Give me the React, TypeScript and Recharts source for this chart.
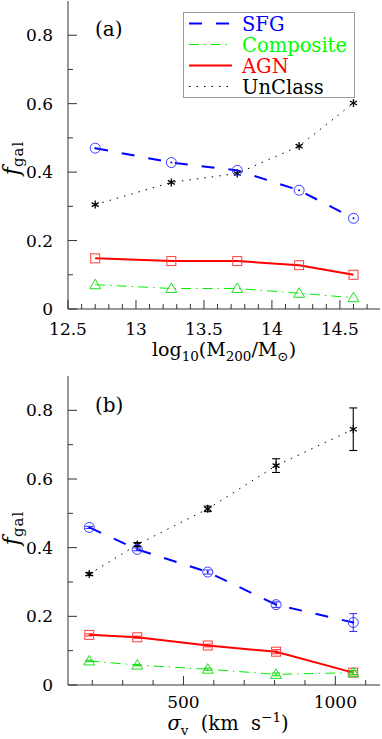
import React from 'react';
import { LineChart, Line, XAxis, YAxis, ErrorBar, Label, Customized } from 'recharts';

const FONT = '"DejaVu Serif", serif';
const AXIS = '#333333';

// ---- Panel (a): halo mass ----
const massX = [12.7, 13.26, 13.745, 14.2, 14.6];
const sfgMass = [0.47, 0.428, 0.405, 0.347, 0.265];
const compMass = [0.071, 0.06, 0.06, 0.046, 0.033];
const agnMass = [0.148, 0.14, 0.14, 0.128, 0.1];
const unMass = [0.305, 0.37, 0.396, 0.476, 0.602];

// ---- Panel (b): velocity dispersion ----
const sigmaX = [190, 348, 580, 805, 1059];
const sfgSigma = [0.459, 0.395, 0.329, 0.234, 0.182];
const sfgSigmaErr = [0.003, 0.004, 0.006, 0.008, 0.026];
const compSigma = [0.07, 0.058, 0.046, 0.031, 0.036];
const compSigmaErr = [0.002, 0.002, 0.003, 0.004, 0.006];
const agnSigma = [0.146, 0.139, 0.115, 0.097, 0.036];
const agnSigmaErr = [0.003, 0.003, 0.004, 0.006, 0.006];
const unSigma = [0.323, 0.409, 0.513, 0.639, 0.745];
const unSigmaErr = [0.004, 0.006, 0.008, 0.02, 0.062];

// ---- ticks ----
const massTicks = [12.5, 12.6, 12.7, 12.8, 12.9, 13, 13.1, 13.2, 13.3, 13.4, 13.5, 13.6, 13.7, 13.8, 13.9, 14, 14.1, 14.2, 14.3, 14.4, 14.5, 14.6, 14.7];
const massLabels = [12.5, 13, 13.5, 14, 14.5];
const sigmaTicks = [200, 300, 400, 500, 600, 700, 800, 900, 1000, 1100];
const sigmaLabels = [500, 1000];
const fracTicks = [0, 0.1, 0.2, 0.3, 0.4, 0.5, 0.6, 0.7, 0.8];
const fracLabels = [0, 0.2, 0.4, 0.6, 0.8];

const seriesNames = ['SFG', 'Composite', 'AGN', 'UnClass'];
const seriesKeys = ['sfg', 'comp', 'agn', 'un'];

// styles
const lineStyle: Record<string, { stroke: string; width: number; dash?: string; marker: string }> = {
  sfg: { stroke: '#0000ff', width: 2, dash: '13 14', marker: '#3a3aff' },
  comp: { stroke: '#00ee00', width: 1, dash: '10 5 1.5 5', marker: '#22dd22' },
  agn: { stroke: '#ff0000', width: 2, marker: '#ff3c3c' },
  un: { stroke: '#000000', width: 1, dash: '1.5 6', marker: '#000000' },
};

const rowsMass = massX.map((x, i) => ({ x, sfg: sfgMass[i], comp: compMass[i], agn: agnMass[i], un: unMass[i] }));
const rowsSigma = sigmaX.map((x, i) => ({
  x,
  sfg: sfgSigma[i], sfgErr: sfgSigmaErr[i],
  comp: compSigma[i], compErr: compSigmaErr[i],
  agn: agnSigma[i], agnErr: agnSigmaErr[i],
  un: unSigma[i], unErr: unSigmaErr[i],
}));

const fmtFrac = (v: number) => (v === 0 ? '0' : String(v));

const makeBottomTick = (labels: number[], dyText: number) => (props: any) => {
  const { x, y, payload } = props;
  const major = labels.includes(payload.value);
  return (
    <g>
      <line x1={x} x2={x} y1={y} y2={y - (major ? 9 : 5)} stroke={AXIS} strokeWidth={1} />
      {major && (
        <text x={x} y={y + dyText} textAnchor="middle" fontSize={17} fontFamily={FONT} fill="#000">
          {String(payload.value)}
        </text>
      )}
    </g>
  );
};

const makeTopTick = (labels: number[]) => (props: any) => {
  const { x, y, payload } = props;
  const major = labels.includes(payload.value);
  return <line x1={x} x2={x} y1={y} y2={y + (major ? 9 : 5)} stroke={AXIS} strokeWidth={1} />;
};

const LeftTick = (props: any) => {
  const { x, y, payload } = props;
  const major = fracLabels.includes(payload.value);
  return (
    <g>
      <line x1={x} x2={x + (major ? 9 : 5)} y1={y} y2={y} stroke={AXIS} strokeWidth={1} />
      {major && (
        <text x={x - 15} y={y + 6} textAnchor="end" fontSize={17} fontFamily={FONT} fill="#000">
          {fmtFrac(payload.value)}
        </text>
      )}
    </g>
  );
};

const RightTick = (props: any) => {
  const { x, y, payload } = props;
  const major = fracLabels.includes(payload.value);
  return <line x1={x} x2={x - (major ? 9 : 5)} y1={y} y2={y} stroke={AXIS} strokeWidth={1} />;
};

// markers
const CircleMark = (props: any) => {
  const { cx, cy, index } = props;
  if (cx == null || cy == null) return <g key={index} />;
  return (
    <g key={index}>
      <circle cx={cx} cy={cy} r={5} fill="none" stroke={lineStyle.sfg.marker} strokeWidth={1} />
      <circle cx={cx} cy={cy} r={1} fill="#0000ff" />
    </g>
  );
};
const SquareMark = (props: any) => {
  const { cx, cy, index } = props;
  if (cx == null || cy == null) return <g key={index} />;
  return <rect key={index} x={cx - 4.5} y={cy - 4.5} width={9} height={9} fill="none" stroke={lineStyle.agn.marker} strokeWidth={1} />;
};
const TriMark = (props: any) => {
  const { cx, cy, index } = props;
  if (cx == null || cy == null) return <g key={index} />;
  return (
    <polygon key={index} points={`${cx},${cy - 5.5} ${cx - 5.5},${cy + 4} ${cx + 5.5},${cy + 4}`} fill="none" stroke={lineStyle.comp.marker} strokeWidth={1} />
  );
};
const StarMark = (props: any) => {
  const { cx, cy, index } = props;
  if (cx == null || cy == null) return <g key={index} />;
  return (
    <g key={index} stroke="#000" strokeWidth={1.3}>
      <line x1={cx} x2={cx} y1={cy - 4} y2={cy + 4} />
      <line x1={cx - 3.5} x2={cx + 3.5} y1={cy - 2} y2={cy + 2} />
      <line x1={cx - 3.5} x2={cx + 3.5} y1={cy + 2} y2={cy - 2} />
    </g>
  );
};
const markers: Record<string, any> = { sfg: CircleMark, comp: TriMark, agn: SquareMark, un: StarMark };

const LegendBox = () => (
  <g>
    <rect x={183.5} y={12.5} width={171} height={85} fill="#fff" stroke="#999" strokeWidth={1} />
    {seriesKeys.map((k, i) => {
      const s = lineStyle[k];
      const cy = 23.5 + i * 21;
      return (
        <g key={k}>
          <line x1={189} x2={232} y1={cy} y2={cy} stroke={s.stroke} strokeWidth={s.width} strokeDasharray={s.dash} />
          <text x={242} y={cy + 7} fontSize={19.5} fontFamily={FONT} fill={k === 'comp' ? '#00ff00' : s.stroke}>
            {seriesNames[i]}
          </text>
        </g>
      );
    })}
  </g>
);

const FLabel = ({ cy }: { cy: number }) => (
  <text transform={`rotate(-90, 19, ${cy})`} x={19} y={cy} textAnchor="middle" fontFamily={FONT} fill="#000">
    <tspan fontSize={22} fontStyle="italic">f</tspan>
    <tspan fontSize={15} dy={4} letterSpacing={1}>gal</tspan>
  </text>
);

const MassTitle = () => (
  <text x={224} y={356} textAnchor="middle" fontFamily={FONT} fontSize={19} fill="#000">
    log<tspan fontSize={13.5} dy={5}>10</tspan>
    <tspan dy={-5}>(M</tspan>
    <tspan fontSize={13.5} dy={5}>200</tspan>
    <tspan dy={-5}>/M</tspan>
    <tspan fontSize={13.5} dy={5}>⊙</tspan>
    <tspan dy={-5}>)</tspan>
  </text>
);

const SigmaTitle = () => (
  <text x={228} y={360} textAnchor="middle" fontFamily={FONT} fontSize={19.5} fill="#000">
    <tspan fontStyle="italic">σ</tspan>
    <tspan fontSize={13.5} dy={5}>v</tspan>
    <tspan dy={-5}>{'\u00a0\u00a0(km\u00a0\u00a0s'}</tspan>
    <tspan fontSize={13.5} dy={-8}>−1</tspan>
    <tspan dy={8}>)</tspan>
  </text>
);

type PanelProps = {
  rows: any[];
  height: number;
  marginTop: number;
  xAxisHeight: number;
  xDomain: [number, number];
  xTicks: number[];
  xLabels: number[];
  tickDy: number;
  tag: string;
  tagY: number;
  fCy: number;
  Title: () => any;
  withLegend: boolean;
  withErr: boolean;
};

const Panel = (p: PanelProps) => (
  <LineChart width={382} height={p.height} data={p.rows} margin={{ top: p.marginTop, right: 2, bottom: 0, left: 0 }}>
    <XAxis
      dataKey="x"
      type="number"
      domain={p.xDomain}
      allowDataOverflow
      ticks={p.xTicks}
      interval={0}
      height={p.xAxisHeight}
      tickSize={0}
      tickMargin={0}
      tickLine={false}
      axisLine={{ stroke: AXIS, strokeWidth: 1 }}
      tick={makeBottomTick(p.xLabels, p.tickDy)}
    >
      <Label content={() => <p.Title />} />
    </XAxis>
    <XAxis
      xAxisId="top"
      orientation="top"
      dataKey="x"
      type="number"
      domain={p.xDomain}
      allowDataOverflow
      ticks={p.xTicks}
      interval={0}
      height={0}
      tickSize={0}
      tickMargin={0}
      tickLine={false}
      axisLine={{ stroke: AXIS, strokeWidth: 1 }}
      tick={makeTopTick(p.xLabels)}
    />
    <YAxis
      type="number"
      domain={[0, 0.9]}
      allowDataOverflow
      ticks={fracTicks}
      interval={0}
      width={68}
      tickSize={0}
      tickMargin={0}
      tickLine={false}
      axisLine={{ stroke: AXIS, strokeWidth: 1 }}
      tick={LeftTick}
    >
      <Label content={() => <FLabel cy={p.fCy} />} />
    </YAxis>
    <YAxis
      yAxisId="right"
      orientation="right"
      type="number"
      domain={[0, 0.9]}
      allowDataOverflow
      ticks={fracTicks}
      interval={0}
      width={0}
      tickSize={0}
      tickMargin={0}
      tickLine={false}
      axisLine={{ stroke: AXIS, strokeWidth: 1 }}
      tick={RightTick}
    />
    {p.withLegend && <Customized component={LegendBox} />}
    <Customized
      component={() => (
        <text x={95} y={p.tagY} fontSize={20} fontFamily={FONT} fill="#000">
          {p.tag}
        </text>
      )}
    />
    {['un', 'sfg', 'agn', 'comp'].map((k) => {
      const s = lineStyle[k];
      return (
        <Line
          key={k}
          dataKey={k}
          name={seriesNames[seriesKeys.indexOf(k)]}
          type="linear"
          stroke={s.stroke}
          strokeWidth={s.width}
          strokeDasharray={s.dash}
          dot={markers[k]}
          activeDot={false}
          isAnimationActive={false}
        >
          {p.withErr && (
            <ErrorBar dataKey={`${k}Err`} direction="y" width={4} stroke={k === 'un' ? '#000' : s.marker} strokeWidth={1.1} />
          )}
        </Line>
      );
    })}
  </LineChart>
);

export default function App() {
  return (
    <div style={{ position: 'absolute', left: 0, top: 0, width: 382, height: 739, background: '#fff' }}>
      <div style={{ position: 'absolute', left: 0, top: 0 }}>
        <Panel
          rows={rowsMass}
          height={370}
          marginTop={1}
          xAxisHeight={61}
          xDomain={[12.5, 14.795]}
          xTicks={massTicks}
          xLabels={massLabels}
          tickDy={26}
          tag="(a)"
          tagY={36}
          fCy={158}
          Title={MassTitle}
          withLegend={true}
          withErr={false}
        />
      </div>
      <div style={{ position: 'absolute', left: 0, top: 370 }}>
        <Panel
          rows={rowsSigma}
          height={369}
          marginTop={6}
          xAxisHeight={54}
          xDomain={[120, 1147]}
          xTicks={sigmaTicks}
          xLabels={sigmaLabels}
          tickDy={23}
          tag="(b)"
          tagY={42}
          fCy={158}
          Title={SigmaTitle}
          withLegend={false}
          withErr={true}
        />
      </div>
    </div>
  );
}
